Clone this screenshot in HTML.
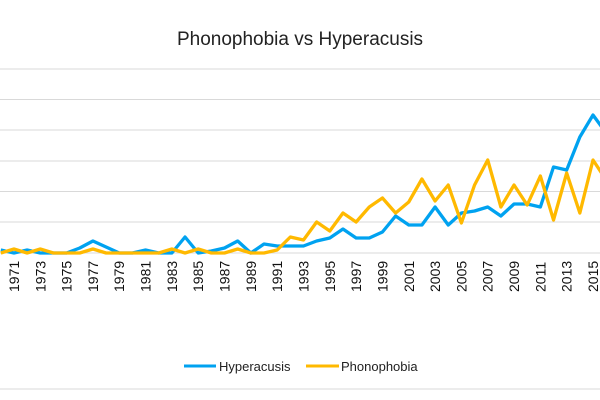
<!DOCTYPE html>
<html><head><meta charset="utf-8"><style>body{margin:0;background:#fff}svg{display:block;font-family:"Liberation Sans",sans-serif}</style></head><body>
<svg width="600" height="400" xmlns="http://www.w3.org/2000/svg">
<rect width="600" height="400" fill="#fff"/>
<text x="300" y="45" text-anchor="middle" font-size="19" fill="#222">Phonophobia vs Hyperacusis</text>
<g stroke="#d9d9d9" stroke-width="1">
<line x1="0" x2="600" y1="69" y2="69"/><line x1="0" x2="600" y1="99.5" y2="99.5"/><line x1="0" x2="600" y1="130" y2="130"/><line x1="0" x2="600" y1="161" y2="161"/><line x1="0" x2="600" y1="191.5" y2="191.5"/><line x1="0" x2="600" y1="222" y2="222"/><line x1="0" x2="600" y1="253" y2="253"/>
</g>
<line x1="0" x2="600" y1="389" y2="389" stroke="#e6e6e6" stroke-width="1.5"/>
<g font-size="14" fill="#111">
<text transform="translate(19,292) rotate(-90)">1971</text>
<text transform="translate(45.3,292) rotate(-90)">1973</text>
<text transform="translate(71.6,292) rotate(-90)">1975</text>
<text transform="translate(97.9,292) rotate(-90)">1977</text>
<text transform="translate(124.2,292) rotate(-90)">1979</text>
<text transform="translate(150.6,292) rotate(-90)">1981</text>
<text transform="translate(176.9,292) rotate(-90)">1983</text>
<text transform="translate(203.2,292) rotate(-90)">1985</text>
<text transform="translate(229.5,292) rotate(-90)">1987</text>
<text transform="translate(255.8,292) rotate(-90)">1989</text>
<text transform="translate(282.2,292) rotate(-90)">1991</text>
<text transform="translate(308.5,292) rotate(-90)">1993</text>
<text transform="translate(334.8,292) rotate(-90)">1995</text>
<text transform="translate(361.1,292) rotate(-90)">1997</text>
<text transform="translate(387.4,292) rotate(-90)">1999</text>
<text transform="translate(413.8,292) rotate(-90)">2001</text>
<text transform="translate(440.1,292) rotate(-90)">2003</text>
<text transform="translate(466.4,292) rotate(-90)">2005</text>
<text transform="translate(492.7,292) rotate(-90)">2007</text>
<text transform="translate(519,292) rotate(-90)">2009</text>
<text transform="translate(545.4,292) rotate(-90)">2011</text>
<text transform="translate(571.7,292) rotate(-90)">2013</text>
<text transform="translate(598,292) rotate(-90)">2015</text>
</g>
<polyline id="b" fill="none" stroke="#00a2f0" stroke-width="3.3" stroke-linejoin="round"/>
<polyline id="o" fill="none" stroke="#ffb900" stroke-width="3.3" stroke-linejoin="round"/>
<line x1="184" x2="216" y1="366" y2="366" stroke="#00a2f0" stroke-width="3"/>
<text x="219" y="371" font-size="13" fill="#222">Hyperacusis</text>
<line x1="306" x2="339" y1="366" y2="366" stroke="#ffb900" stroke-width="3"/>
<text x="341" y="371" font-size="13" fill="#222">Phonophobia</text>
<script>
var B=[250,253,250,253,253,253,248,241,247,253,253,250,253,253,237,253,251,248,241,253,244,246,246,246,241,238,229,238,238,232,216,225,225,207,225,213,211,207,216,204,204,207,167,170,137,115,133];
var O=[253,249,253,249,253,253,253,249,253,253,253,253,253,249,253,249,253,253,249,253,253,250,237,240,222,231,213,222,207,198,213,202,179,201,185,223,185,160,207,185,205,176,220,173,213,160,180];
function X(i){return 0.8+i*13.16;}
document.getElementById('b').setAttribute('points',B.map(function(v,i){return X(i)+','+v}).join(' '));
document.getElementById('o').setAttribute('points',O.map(function(v,i){return X(i)+','+v}).join(' '));
</script>
</svg>
</body></html>
